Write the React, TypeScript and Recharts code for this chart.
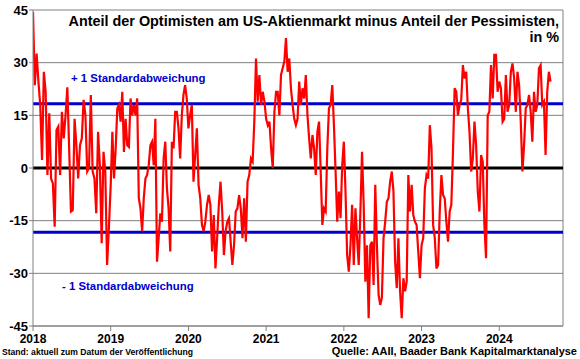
import { LineChart, Line, XAxis, YAxis, CartesianGrid, ReferenceLine } from 'recharts'

// AAII bull-bear spread, read off the chart roughly weekly, one array per year
const spread2018 = [44.5, 23.6, 32.6, 24.6, 18, 2.3, 27.4, 21.7, -2, 15.6, -3, -4.4, -16.7, 10.8, 11.8, -2, 16, 8.4, 15, 23, 5.6, -12.4, -12, 14, 6.5, -3, 6.5, 8.4, 19.4, 15, -1, 0, 20.8, -1, -3, -12.9, 10.3, 0.8, -21.4, 4.6, -1, -27.6, -17]
const spread2019 = [-4.8, 10.3, -3, 5.6, 17, 18, 13.2, 21.7, 4.6, 14, 6.5, 6, 19.8, 15, 18, 15, 19.8, -8.6, -11.5, -18, -8.6, -3, -2, 0.8, 6.5, 7.5, 0.8, 14, -26.7, -20, -12.9, -15.3, 2.7, 7.5, -5.8, -11.5, -23.8, 7.5, 5.6, 16, 16, 11.3, 2.7, 15, 20.8, 23.6, 19.8]
const spread2020 = [11.3, 15, 18, -3.9, 3.7, 11.3, -4.8, -8.6, -16.2, -18, -15.3, -10.5, -7.7, -10.5, -23.8, -13.4, -28.6, -20, -10.5, -3.9, -12.4, -24.8, -18, -15.3, -14.3, -21, -27.6, -22, -12.4, -11.5, -7.7, -11.5, -20, -8.6, -21, -3.9, -2, 2.7, 1.8, 13.2, 31.2, 18.9, 26.5, 18, 21.7, 18.9]
const spread2021 = [14, 12.2, 13.2, 5.6, 0, 16, 21.7, 21.7, 15, 26.5, 28.4, 30.3, 37, 27.4, 31.2, 22.7, 18, 14, 12.2, 14, 24.6, 18, 22.7, 19.8, 26.5, 15, 8.4, 2.7, 9.4, 5.6, -2, 10.3, 13.2, -1, -16.2, -11.5, -12.4, 5.6, 17, 18, 23.6, 12.2, -1, -15.3, -6.7, -14.3, 0.8]
const spread2022 = [7.5, -6.7, -24.8, -29.5, -22, -10.5, -27.6, -11.5, -20, -27.6, -12.4, 4.6, -10.5, -32.4, -22, -42.8, -22, -21, -33.3, -4.8, -22, -36.1, -39, -37, -20, -15.3, -9.6, -8.6, -3.9, -1, -6.7, -26.7, -34.2, -20, -35.1, -42.8, -31.4, -35.1, -32.4, -2, -12.4, -4.8, -13.4, -15.3, -16.2, -23.8, -31.4]
const spread2023 = [-22, -20, -5.8, -2, -3, 12.2, 5.6, -16.2, -20, -28.6, -27.6, -12.4, -2, -7.7, -8.6, -15.3, -21, -12.4, -10.5, 4.6, 22.7, 21.7, 15, 18, 19.4, 29.3, 25.5, 27.4, 17, 10.3, -1, 2.7, 13.2, 6.5, -6.7, -12.4, 3.7, 1.8, -16.2, -25.7, 15, 16, 29.3, 19.8, 32.2, 32.2, 21.7]
const spread2024 = [24.6, 22.7, 13.2, 14, 26.5, 16, 18, 27.4, 29.8, 25.5, 16, 27.4, 23.6, 13.2, -1, 6.5, 17, 18, 20.8, 16, 7.5, 21.7, 16, 18, 28.4, 29.3, 18, 18.9, 3.7, 21.7, 27.4, 24.6]

const years = [2018, 2019, 2020, 2021, 2022, 2023, 2024]
const yTicks = [-45, -30, -15, 0, 15, 30, 45]
const stdDev = 18.3

const byYear = [spread2018, spread2019, spread2020, spread2021, spread2022, spread2023, spread2024]
// the last year is incomplete, so it gets the usual weekly step instead of filling a whole year
const chartData = byYear.flatMap((values, k) =>
  values.map((v, i) => ({
    t: years[k] + i / (k === byYear.length - 1 ? 47 : values.length),
    spread: v,
  }))
)

const FONT = 'Arial, "Liberation Sans", sans-serif'
const BLUE = '#0000CC'

export default function App() {
  return (
    <div style={{ position: 'absolute', left: 0, top: 0, width: 580, height: 359, background: '#fff' }}>
      <LineChart width={580} height={359} data={chartData} margin={{ top: 10, right: 17, left: 0, bottom: 13 }}>
        <CartesianGrid vertical={false} stroke="#808080" strokeWidth={1} />
        <XAxis
          dataKey="t"
          type="number"
          domain={[2018, 2024.82]}
          ticks={years}
          allowDataOverflow
          height={20}
          stroke="#808080"
          tickSize={5}
          tickMargin={3}
          tick={{ fill: '#000', fontSize: 12, fontWeight: 'bold', fontFamily: FONT }}
        />
        <YAxis
          domain={[-45, 45]}
          ticks={yTicks}
          width={33}
          stroke="#808080"
          tickSize={4}
          tickMargin={1}
          tick={{ fill: '#000', fontSize: 13, fontWeight: 'bold', fontFamily: FONT }}
        />
        <ReferenceLine x={2024.82} stroke="#808080" />
        <ReferenceLine y={stdDev} stroke={BLUE} strokeWidth={3} />
        <ReferenceLine y={-stdDev} stroke={BLUE} strokeWidth={3} />
        <ReferenceLine y={0} stroke="#000" strokeWidth={3} />
        <Line type="linear" dataKey="spread" stroke="#FF0000" strokeWidth={2.2} dot={false} isAnimationActive={false} />
      </LineChart>
      <svg width={580} height={359} style={{ position: 'absolute', left: 0, top: 0, pointerEvents: 'none' }} fontFamily={FONT} fontWeight="bold">
        <text x={559} y={26} fontSize={14.4} textAnchor="end" fill="#000">
          Anteil der Optimisten am US-Aktienmarkt minus Anteil der Pessimisten,
        </text>
        <text x={559} y={42} fontSize={14.4} textAnchor="end" fill="#000">in %</text>
        <text x={71} y={82} fontSize={11.4} fill={BLUE}>+ 1 Standardabweichung</text>
        <text x={62} y={290} fontSize={11.4} fill={BLUE}>- 1 Standardabweichung</text>
        <text x={2} y={355} fontSize={8.6} fill="#000">Stand: aktuell zum Datum der Veröffentlichung</text>
        <text x={577} y={355} fontSize={11} textAnchor="end" fill="#000">Quelle: AAII, Baader Bank Kapitalmarktanalyse</text>
      </svg>
    </div>
  )
}
